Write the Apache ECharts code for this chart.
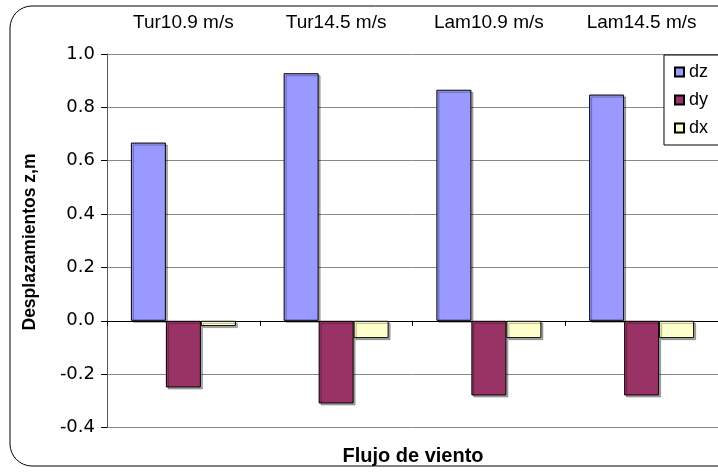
<!DOCTYPE html>
<html><head><meta charset="utf-8">
<script src="https://cdn.jsdelivr.net/npm/echarts@6/dist/echarts.min.js"></script>
<style>html,body{margin:0;padding:0;background:#fff}#c{width:718px;height:472px}</style>
</head><body><div id="c"></div>
<script>
var categories = ['Tur10.9 m/s', 'Tur14.5 m/s', 'Lam10.9 m/s', 'Lam14.5 m/s'];
var dz = [0.668, 0.928, 0.866, 0.848];
var dy = [-0.25, -0.31, -0.28, -0.28];
var dx = [-0.02, -0.065, -0.065, -0.065];
var yTicks = [-0.4, -0.2, 0.0, 0.2, 0.4, 0.6, 0.8, 1.0];

var chart = echarts.init(document.getElementById('c'));
var F = '"Liberation Sans", Arial, sans-serif';
var FD = '"DejaVu Sans", sans-serif';
function barStyle(c){return {color:c,borderColor:'#000',borderWidth:1,shadowColor:'rgba(0,0,0,0.3)',shadowOffsetX:2,shadowOffsetY:2,shadowBlur:0};}
chart.setOption({
  animation:false,
  graphic:[
    {type:'rect',shape:{x:10,y:6,width:760,height:460,r:22},style:{fill:'none',stroke:'#000',lineWidth:1},z:-1},
    {type:'text',x:413,y:456,style:{text:'Flujo de viento',font:'bold 20px '+F,fill:'#000',align:'center',verticalAlign:'middle'}},
    {type:'text',x:30,y:242,rotation:Math.PI/2,style:{text:'Desplazamientos z,m',font:'bold 17.5px '+F,fill:'#000',align:'center',verticalAlign:'middle'}}
  ],
  grid:{left:107,top:54,right:-7,bottom:44.5,containLabel:false},
  legend:{orient:'vertical',right:-10,top:55,width:70,itemWidth:9,itemHeight:9,itemGap:10,
    padding:[8,20,8,10],backgroundColor:'#fff',borderColor:'#000',borderWidth:1,
    textStyle:{fontFamily:F,fontSize:18,color:'#000'},
    data:[{name:'dz',icon:'rect'},{name:'dy',icon:'rect'},{name:'dx',icon:'rect'}]},
  xAxis:[
    {type:'category',data:categories,position:'bottom',
     axisLine:{onZero:true,lineStyle:{color:'#000',width:1}},
     axisTick:{show:true,inside:false,length:5,lineStyle:{color:'#000'}},
     axisLabel:{show:false},splitLine:{show:false}},
    {type:'category',data:categories,position:'top',
     axisLine:{show:false},axisTick:{show:false},
     axisLabel:{show:true,margin:22,fontFamily:F,fontSize:19,color:'#000'}}
  ],
  yAxis:{type:'value',min:-0.4,max:1.0,interval:0.2,
    axisLine:{show:true,lineStyle:{color:'#555'}},
    axisTick:{show:true,length:6,lineStyle:{color:'#000'}},
    axisLabel:{fontFamily:FD,fontSize:18,color:'#000',margin:12,formatter:function(v){return v.toFixed(1);}},
    splitLine:{show:true,lineStyle:{color:'#888',width:1}}},
  series:[
    {name:'dz',type:'bar',data:dz,barWidth:35,barGap:'0%',itemStyle:barStyle('#9999FF')},
    {name:'dy',type:'bar',data:dy,barWidth:35,barGap:'0%',itemStyle:barStyle('#993366')},
    {name:'dx',type:'bar',data:dx,barWidth:35,barGap:'0%',itemStyle:barStyle('#FFFFCC')}
  ]
});
</script></body></html>
